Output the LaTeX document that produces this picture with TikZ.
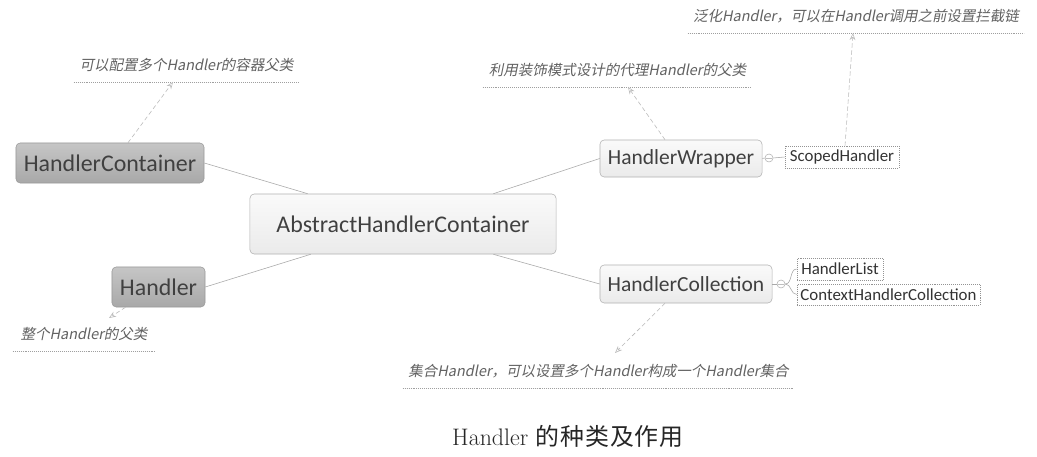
\documentclass[tikz,border=0pt]{standalone}
\usepackage{fontspec}
\usepackage{tikz}
\usetikzlibrary{arrows.meta, calc}
\newfontfamily\boxfont{Carlito}
\newfontfamily\notefont[FakeSlant=0.2]{Noto Sans CJK SC}
\newfontfamily\capfont[LetterSpace=4]{Noto Sans CJK SC}
\definecolor{edge}{HTML}{A8A8A8}
\definecolor{ink}{HTML}{404040}
\definecolor{soft}{HTML}{626262}

\begin{document}
\begin{tikzpicture}[x=0.025cm, y=-0.025cm,
      dark/.style={rectangle, rounded corners=3pt, draw=gray!80, top color=gray!45,
                   bottom color=gray!68, text=ink, inner sep=0pt,
                   font=\boxfont\fontsize{17}{20}\selectfont},
      light/.style={rectangle, rounded corners=3pt, draw=gray!60, top color=gray!4,
                    bottom color=gray!16, text=ink, inner sep=0pt},
      leaf/.style={rectangle, draw=gray!85, densely dotted, fill=white, text=black!80,
                   inner sep=0pt, font=\boxfont\fontsize{12}{14}\selectfont},
      note/.style={anchor=south, inner xsep=0pt, inner ysep=0.25cm, text=soft,
                   font=\notefont\fontsize{10.3}{12}\selectfont},
      uline/.style={draw=gray!75, densely dotted, thin},
      link/.style={draw=edge, thin},
      hint/.style={draw=gray!55, densely dashed, thin,
                   -{Stealth[open, length=5pt, width=4pt]}},
      knob/.style={circle, draw=gray!60, fill=white, minimum size=0.2cm, inner sep=0pt}]
  \useasboundingbox[fill=white] (0,0) rectangle (1037,457);

  % main boxes
  \node[light, minimum width=7.65cm, minimum height=1.5cm,
        font=\boxfont\fontsize{17}{20}\selectfont] (ahc) at (403,224) {AbstractHandlerContainer};
  \node[dark, minimum width=4.7cm, minimum height=1.0cm] (hc) at (110,163) {HandlerContainer};
  \node[dark, minimum width=2.325cm, minimum height=1.0cm] (hd) at (158.5,287) {Handler};
  \node[light, minimum width=4.05cm, minimum height=0.925cm,
        font=\boxfont\fontsize{15.3}{18}\selectfont] (hw) at (681,158.5) {HandlerWrapper};
  \node[light, minimum width=4.3cm, minimum height=0.95cm,
        font=\boxfont\fontsize{15.3}{18}\selectfont] (hcol) at (686,284) {HandlerCollection};

  % sub classes
  \node[leaf, minimum width=2.85cm, minimum height=0.55cm] (sh) at (842,157) {ScopedHandler};
  \node[leaf, minimum width=2.15cm, minimum height=0.55cm] (hl) at (840,269) {HandlerList};
  \node[leaf, minimum width=4.575cm, minimum height=0.525cm] (chc) at (888.5,294.5) {ContextHandlerCollection};
  \node[knob] (k1) at (769,158) {};
  \node[knob] (k2) at (781,284) {};

  % links
  \draw[link] ($(ahc.north west)+(58,0)$) -- (hc.east);
  \draw[link] ($(ahc.south west)+(61,0)$) -- (hd.east);
  \draw[link] ($(ahc.north east)+(-63,0)$) -- (hw.west);
  \draw[link] ($(ahc.south east)+(-63,0)$) -- (hcol.west);
  \draw[link] (hw.east) -- (k1.west);
  \draw[link] (k1.east) -- (sh.west);
  \draw[gray!50] ($(k1.west)+(1.5,0)$) -- ($(k1.east)+(-1.5,0)$);
  \draw[link] (hcol.east) -- (k2.west);
  \draw[gray!50] ($(k2.west)+(1.5,0)$) -- ($(k2.east)+(-1.5,0)$);
  \foreach \leafnode in {hl, chc}
    \draw[link] (k2.east) to[out=0, in=180] (\leafnode.west);

  % notes
  \node[note, minimum width=5.625cm] (n1) at (186.5,82) {可以配置多个Handler的容器父类};
  \node[note, minimum width=3.55cm] (n2) at (84,351) {整个Handler的父类};
  \node[note, minimum width=6.725cm] (n3) at (617.5,87) {利用装饰模式设计的代理Handler的父类};
  \node[note, minimum width=8.4cm] (n4) at (856,33) {泛化Handler，可以在Handler调用之前设置拦截链};
  \node[note, minimum width=9.775cm] (n5) at (598.5,388) {集合Handler，可以设置多个Handler构成一个Handler集合};
  \foreach \n in {n1,n2,n3,n4,n5}
    \draw[uline] (\n.south west) -- (\n.south east);
  \coordinate (t2) at (109,318);
  \coordinate (t5) at (615,353);
  \draw[hint] ($(hc.north)+(18,0)$) -- ($(n1.south)+(-13.5,0)$);
  \draw[hint] ($(hd.south)+(-33,0)$) -- (t2);
  \draw[hint] ($(hw.north)+(-16,0)$) -- ($(n3.south)+(10.5,0)$);
  \draw[hint] ($(sh.north)+(3,0)$) -- ($(n4.south)+(-3,0)$);
  \draw[hint] ($(hcol.south)+(-21,0)$) -- (t5);

  % caption
  \node[text=black!85, font=\fontsize{17}{19}\selectfont] (cap) at (568,436)
    {Handler {\capfont 的种类及作用}};
\end{tikzpicture}
\end{document}
